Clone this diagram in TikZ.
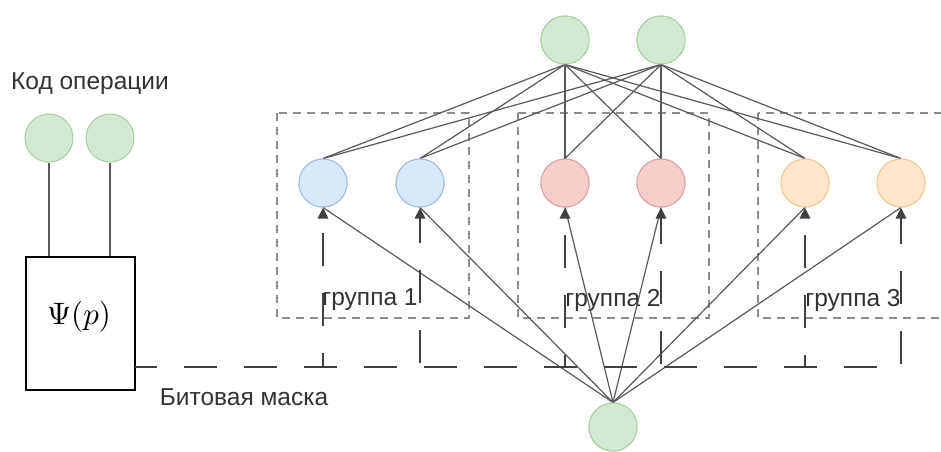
\documentclass[tikz,border=0pt]{standalone}
\usepackage{fontspec}
\setmainfont{Liberation Sans}
\usetikzlibrary{arrows.meta}
\definecolor{gfill}{HTML}{D5E8D4}\definecolor{gdraw}{HTML}{A9CFA2}
\definecolor{bfill}{HTML}{DAE8FC}\definecolor{bdraw}{HTML}{A3BCE0}
\definecolor{rfill}{HTML}{F8CECC}\definecolor{rdraw}{HTML}{D9A3A1}
\definecolor{ofill}{HTML}{FFE6CC}\definecolor{odraw}{HTML}{EDCB93}
\definecolor{txt}{HTML}{333333}
\begin{document}
\begin{tikzpicture}[x=1pt,y=-1pt,
  neuron/.style={circle,minimum size=48pt,inner sep=0pt,line width=1pt},
  gn/.style={neuron,fill=gfill,draw=gdraw},
  bn/.style={neuron,fill=bfill,draw=bdraw},
  rn/.style={neuron,fill=rfill,draw=rdraw},
  on/.style={neuron,fill=ofill,draw=odraw},
  edge/.style={draw=black!65,line width=1.2pt},
  grp/.style={draw=black!45,line width=1.2pt,dash pattern=on 8pt off 6pt},
  mask/.style={draw=black!75,line width=2.8pt,dash pattern=on 33pt off 27pt,dash phase=11pt,
    -{Triangle[length=11pt,width=10pt]}},
  lbl/.style={text=txt,font=\fontsize{24.5}{28}\selectfont,inner sep=0pt}]
\useasboundingbox (0,0) rectangle (941,451);
\clip (0,0) rectangle (941,451);
\fill[white] (0,0) rectangle (941,451);
% group boxes
\draw[grp] (277,113) rectangle (469,318);
\draw[grp] (518,113) rectangle (709,318);
\draw[grp] (758,113) rectangle (960,318);
% nodes
\node[gn] (top1) at (565,40) {};
\node[gn] (top2) at (661,40) {};
\node[bn] (b1) at (323,183) {};
\node[bn] (b2) at (420,183) {};
\node[rn] (r1) at (565,183) {};
\node[rn] (r2) at (661,183) {};
\node[on] (o1) at (805,183) {};
\node[on] (o2) at (901,183) {};
\node[gn] (bot) at (613,427) {};
\node[gn] (g1) at (49,138) {};
\node[gn] (g2) at (110,138) {};
\node[draw=black,line width=1.4pt,minimum width=109pt,minimum height=133pt,inner sep=0pt] (psi) at (80.5,323.5) {};
\node[inner sep=0pt] (psitext) at (79,317) {\scalebox{3.1}{$\Psi(p)$}};
% labels
\node[lbl] (lop) at (90,84) {Код операции};
\node[lbl] (lmask) at (244,397) {Битовая маска};
\node[lbl] (lg1) at (370,300) {группа 1};
\node[lbl] (lg2) at (613,300) {группа 2};
\node[lbl] (lg3) at (853,300) {группа 3};
% edges
\foreach \t in {top1,top2}
  \foreach \m in {b1,b2,r1,r2,o1,o2}
    \draw[edge] (\t.south) -- (\m.north);
\foreach \m in {b1,b2,r1,r2,o1,o2}
  \draw[edge] (bot.north) -- (\m.south);
\draw[edge] (g1.south) -- (g1.south |- psi.north);
\draw[edge] (g2.south) -- (g2.south |- psi.north);
% mask
\coordinate (m0) at (135,367);
\foreach \m in {b1,b2,r1,r2,o1,o2}
  \draw[mask] (m0) -| (\m.south);
% redraw nodes on top
\foreach \n/\s in {top1/gn,top2/gn,b1/bn,b2/bn,r1/rn,r2/rn,o1/on,o2/on,bot/gn}
  \node[\s] at (\n.center) {};
\end{tikzpicture}
\end{document}
